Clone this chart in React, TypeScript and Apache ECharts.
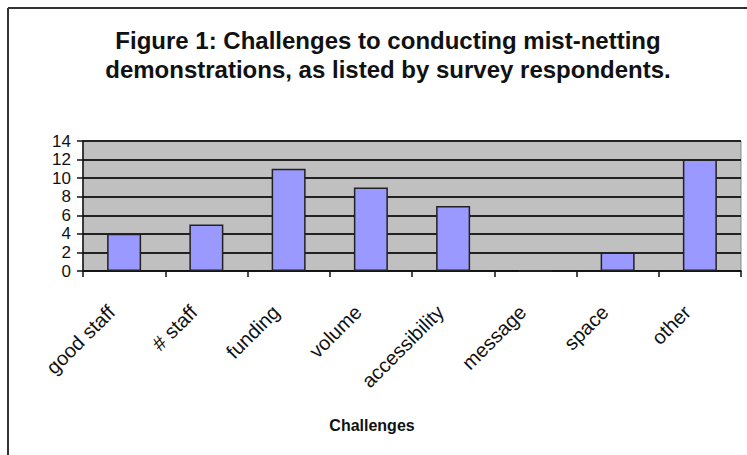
import React, { useEffect, useRef } from "react";
import * as echarts from "echarts";

const categories = ["good staff", "# staff", "funding", "volume", "accessibility", "message", "space", "other"];
const values = [4, 5, 11, 9, 7, 0, 2, 12];
const yTicks = { min: 0, max: 14, interval: 2 };
const titleLines = [
  "Figure 1: Challenges to conducting mist-netting",
  "demonstrations, as listed by survey respondents.",
];
const xAxisTitle = "Challenges";

export default function App() {
  const ref = useRef<HTMLDivElement>(null);
  useEffect(() => {
    if (!ref.current) return;
    const chart = echarts.init(ref.current, null, { renderer: "svg" });
    chart.setOption({
      animation: false,
      backgroundColor: "#ffffff",
      textStyle: { fontFamily: "Liberation Sans, Arial, sans-serif" },
      title: {
        text: titleLines.join("\n"),
        left: 383,
        top: 21,
        textAlign: "center",
        textStyle: {
          fontFamily: "Liberation Sans, Arial, sans-serif",
          fontWeight: "bold",
          fontSize: 24,
          lineHeight: 29,
          color: "#111",
        },
      },
      graphic: [
        { type: "line", shape: { x1: 8, y1: 8, x2: 747, y2: 8 }, style: { stroke: "#333", lineWidth: 2 } },
        { type: "line", shape: { x1: 8, y1: 8, x2: 8, y2: 455 }, style: { stroke: "#333", lineWidth: 2 } },
        {
          type: "text",
          x: 372,
          y: 425,
          style: {
            text: xAxisTitle,
            fontFamily: "Liberation Sans, Arial, sans-serif",
            fontWeight: "bold",
            fontSize: 16,
            fill: "#111",
            align: "center",
            verticalAlign: "middle",
          },
        },
      ],
      grid: {
        left: 83,
        right: 6,
        top: 141,
        bottom: 184,
        show: true,
        backgroundColor: "#c0c0c0",
        borderColor: "#8a8a8a",
        borderWidth: 1,
      },
      xAxis: {
        type: "category",
        data: categories,
        boundaryGap: true,
        axisLine: { lineStyle: { color: "#111", width: 1.5 } },
        axisTick: { show: true, length: 6, alignWithLabel: false, lineStyle: { color: "#111", width: 1.5 } },
        axisLabel: { rotate: 45, fontSize: 20, color: "#111", margin: 25, interval: 0, padding: [0, 18, 0, 0] },
        splitLine: { show: false },
      },
      yAxis: {
        type: "value",
        min: yTicks.min,
        max: yTicks.max,
        interval: yTicks.interval,
        axisLine: { show: true, lineStyle: { color: "#111", width: 1.5 } },
        axisTick: { show: true, length: 6, lineStyle: { color: "#111", width: 1.5 } },
        axisLabel: {
          fontSize: 17,
          lineHeight: 17,
          color: "#111",
          margin: 12,
          showMinLabel: true,
          showMaxLabel: true,
          hideOverlap: false,
        },
        splitLine: { show: true, lineStyle: { color: "#222", width: 2 } },
      },
      series: [
        {
          type: "bar",
          data: values,
          barWidth: 34,
          itemStyle: { color: "#9999ff", borderColor: "#222", borderWidth: 1.5 },
        },
      ],
    });
    return () => chart.dispose();
  }, []);
  return <div ref={ref} style={{ width: 747, height: 455, position: "absolute", left: 0, top: 0 }} />;
}
